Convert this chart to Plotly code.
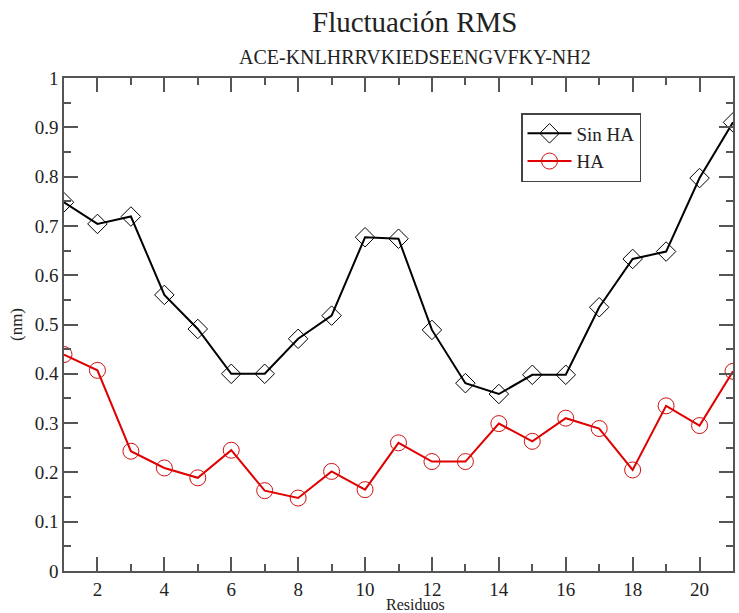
import plotly.graph_objects as go

residuos = list(range(1, 22))
sin_ha = [0.748, 0.704, 0.719, 0.560, 0.491, 0.400, 0.400, 0.471, 0.518, 0.677,
          0.674, 0.489, 0.381, 0.359, 0.398, 0.398, 0.535, 0.633, 0.648, 0.797, 0.910]
ha = [0.439, 0.407, 0.243, 0.209, 0.189, 0.245, 0.163, 0.148, 0.202, 0.165,
      0.260, 0.222, 0.222, 0.299, 0.263, 0.310, 0.289, 0.205, 0.335, 0.295, 0.405]

title_text = "Fluctuación RMS"
subtitle_text = "ACE-KNLHRRVKIEDSEENGVFKY-NH2"
x_label = "Residuos"
y_label = "(nm)"

FONT = "Liberation Serif"
AX = "#555555"

fig = go.Figure()
fig.add_trace(go.Scatter(
    x=residuos, y=sin_ha, name="Sin HA", mode="lines+markers",
    line=dict(color="black", width=2),
    marker=dict(symbol="diamond-open", size=15, color="black", line=dict(width=1, color="#222222")),
))
fig.add_trace(go.Scatter(
    x=residuos, y=ha, name="HA", mode="lines+markers",
    line=dict(color="#e00000", width=2),
    marker=dict(symbol="circle-open", size=16, color="#d01010", line=dict(width=1, color="#d01010")),
))

axis_common = dict(
    showgrid=False, zeroline=False, showline=True, linecolor=AX, linewidth=1.5,
    mirror="ticks", ticks="inside", tickcolor=AX, tickwidth=1.5, ticklen=14,
    tickfont=dict(family=FONT, size=19, color="#222222"), automargin=False,
)

fig.update_xaxes(
    range=[1, 21], dtick=2, tick0=0, **axis_common,
    minor=dict(dtick=1, tick0=0, ticks="inside", ticklen=7, tickcolor=AX, tickwidth=1.5),
)
fig.update_yaxes(
    range=[0, 1], dtick=0.1, tick0=0, **axis_common,
    minor=dict(dtick=0.05, tick0=0, ticks="inside", ticklen=7, tickcolor=AX, tickwidth=1.5),
    title=dict(text=y_label, font=dict(family=FONT, size=17, color="#222222"), standoff=8),
)

fig.add_annotation(text=title_text, xref="paper", yref="paper", x=0.524, y=1,
                   yshift=56, showarrow=False, xanchor="center", yanchor="middle",
                   font=dict(family=FONT, size=29, color="#222222"))
fig.add_annotation(text=subtitle_text, xref="paper", yref="paper", x=0.524, y=1,
                   yshift=21, showarrow=False, xanchor="center", yanchor="middle",
                   font=dict(family=FONT, size=20, color="#222222"))
fig.add_annotation(text=x_label, xref="paper", yref="paper", x=0.526, y=0,
                   yshift=-33, showarrow=False, xanchor="center", yanchor="middle",
                   borderpad=0, font=dict(family=FONT, size=16, color="#222222"))

fig.update_layout(
    width=739, height=613,
    margin=dict(l=64, r=6, t=78, b=42, autoexpand=False),
    paper_bgcolor="white", plot_bgcolor="white",
    showlegend=True,
    legend=dict(x=(521 - 64) / 669, y=(571 - 113) / 493, xanchor="left", yanchor="top",
                bgcolor="white", bordercolor="#444444", borderwidth=1.5,
                font=dict(family=FONT, size=19, color="#222222"),
                tracegroupgap=0, itemwidth=44),
)

fig.write_html("out.html", config={"displayModeBar": False})

with open("out.html", "r", encoding="utf-8") as f:
    html = f.read()
html = html.replace("<head>", "<head><style>html,body{margin:0;padding:0;overflow:hidden;}</style>", 1)
with open("out.html", "w", encoding="utf-8") as f:
    f.write(html)
